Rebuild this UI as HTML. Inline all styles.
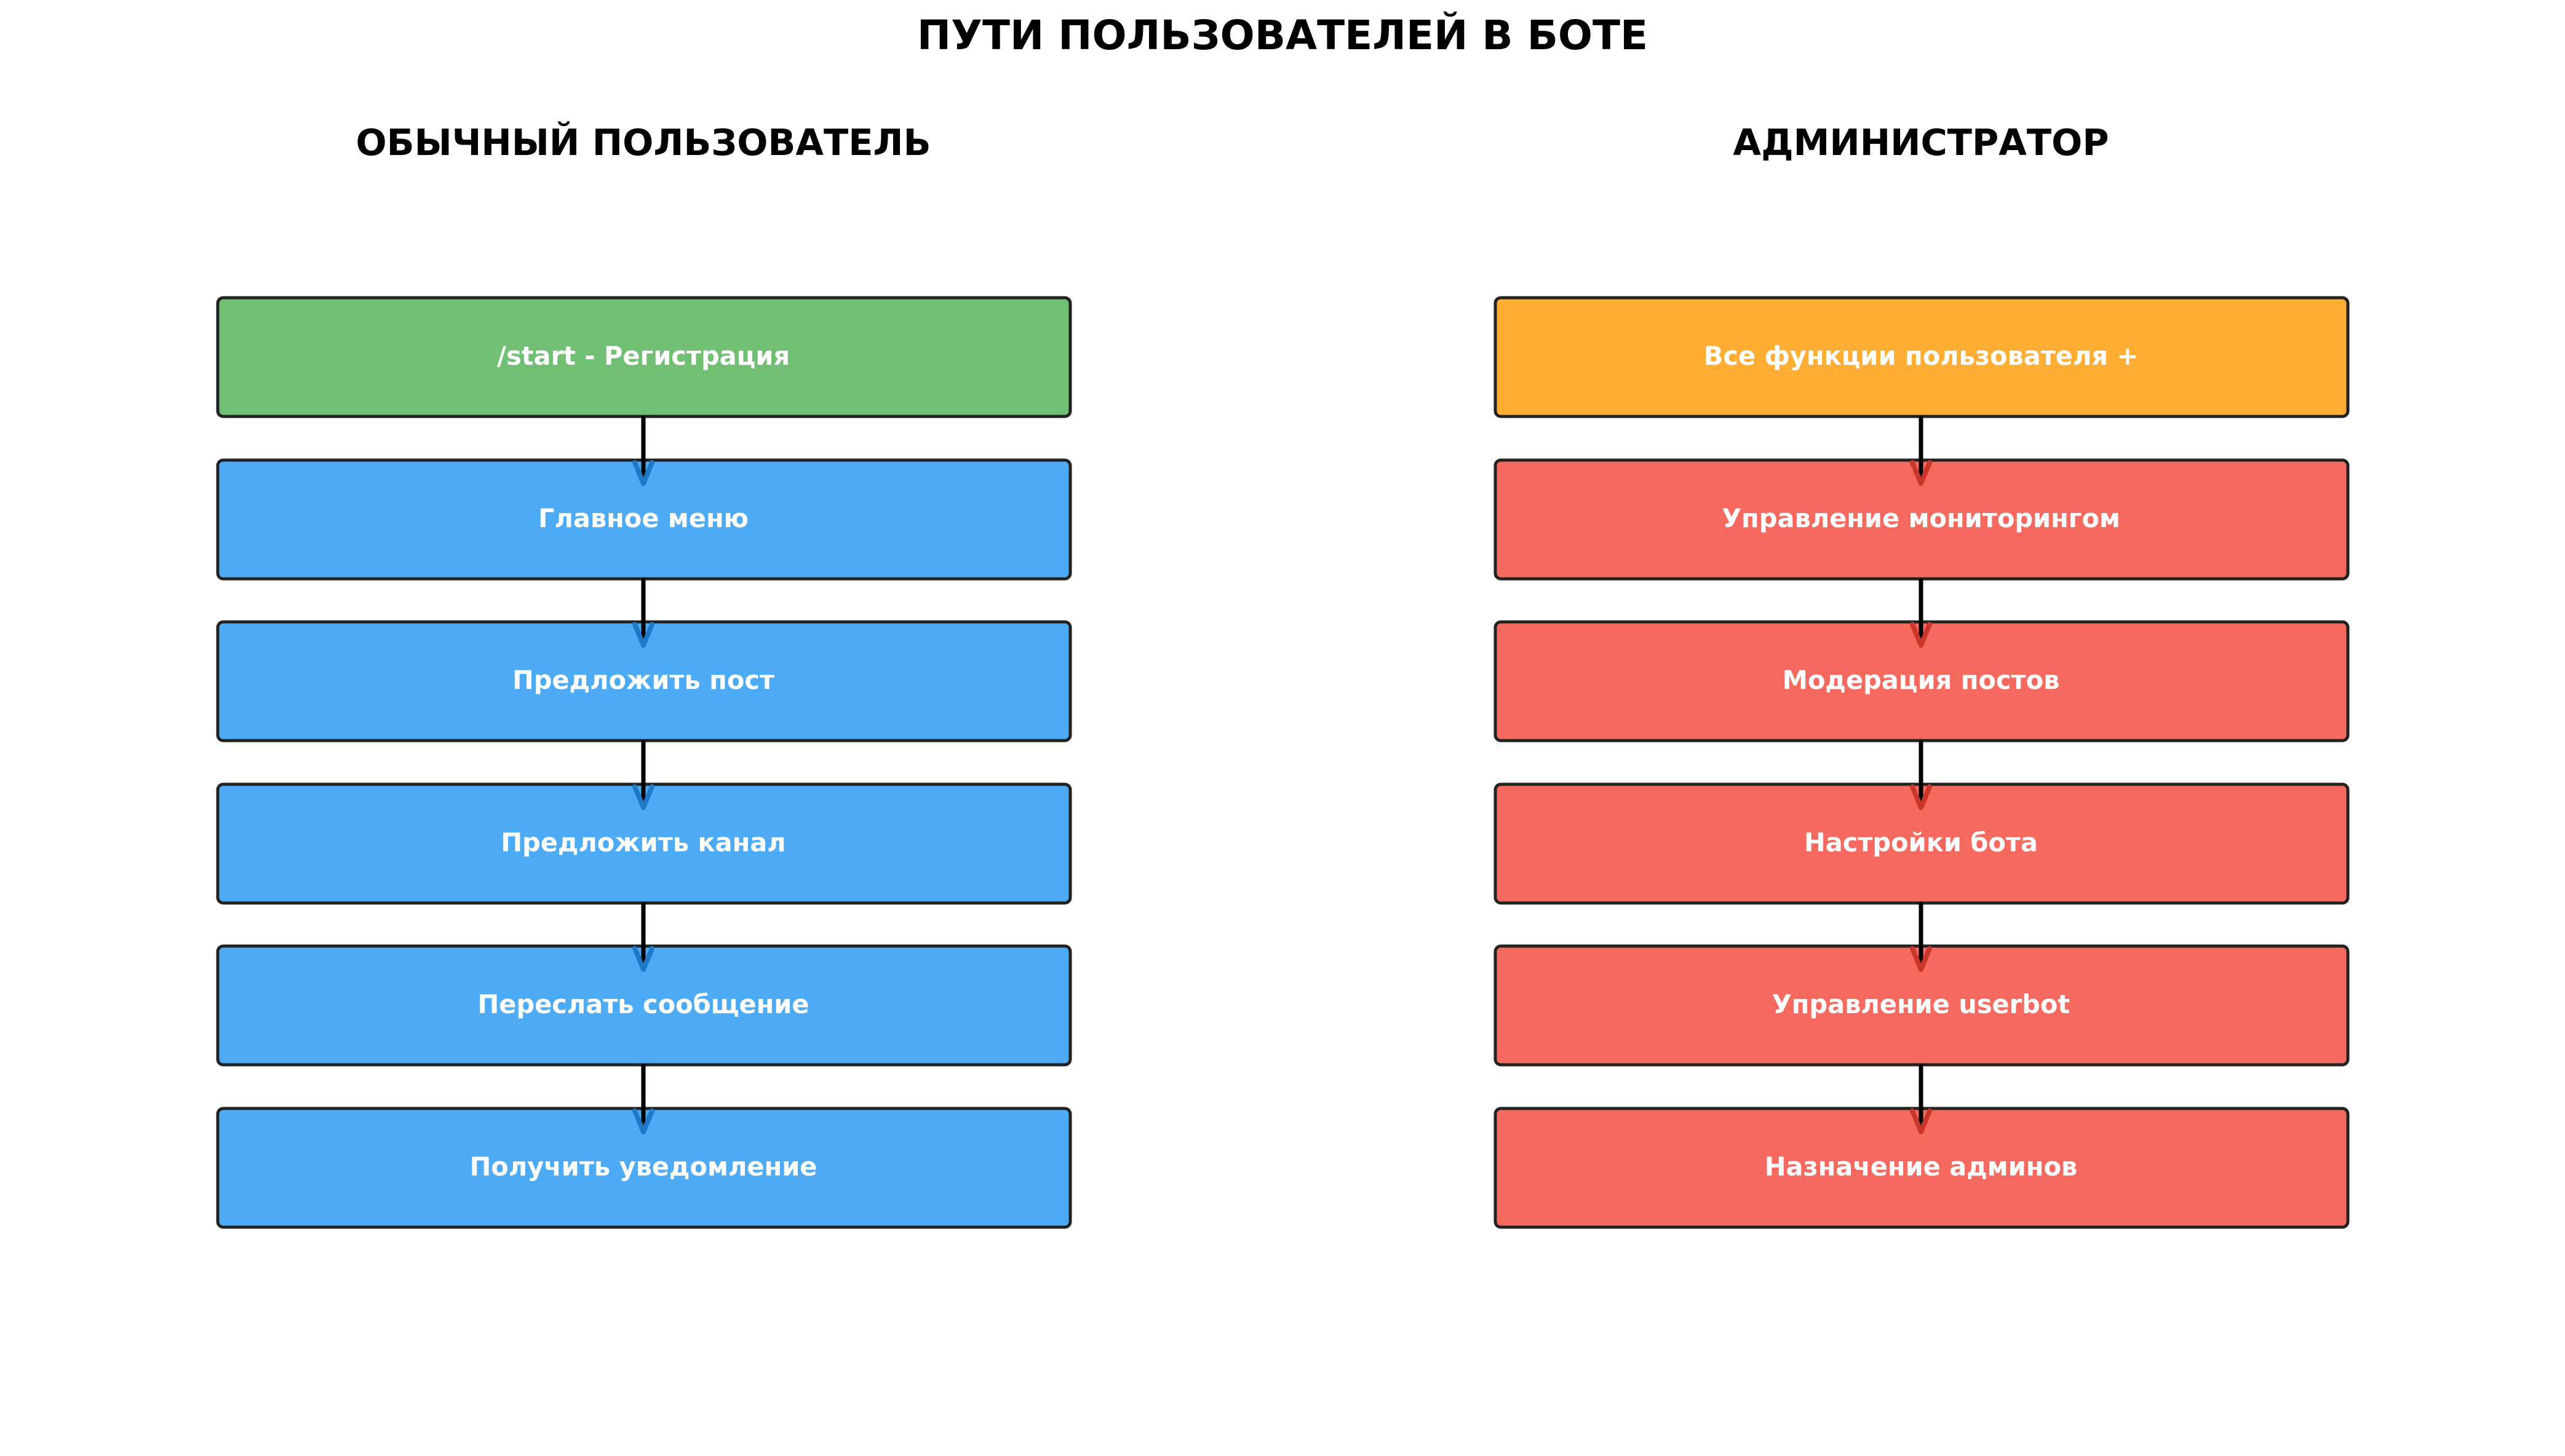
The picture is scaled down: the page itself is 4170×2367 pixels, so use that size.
<!DOCTYPE html>
<html><head><meta charset="utf-8"><style>html,body{margin:0;padding:0;background:#fff}svg{display:block}</style></head>
<body>
<svg width="4170" height="2367" viewBox="0 0 4170 2367" xmlns="http://www.w3.org/2000/svg" font-family="'DejaVu Sans','Liberation Sans',sans-serif" font-weight="bold">
<rect width="4170" height="2367" fill="#fff"/>
<text x="2085" y="80" text-anchor="middle" font-size="66" fill="#000">ПУТИ ПОЛЬЗОВАТЕЛЕЙ В БОТЕ</text>
<text x="1046" y="252" text-anchor="middle" font-size="59" fill="#000">ОБЫЧНЫЙ ПОЛЬЗОВАТЕЛЬ</text>
<text x="3123" y="252" text-anchor="middle" font-size="59" fill="#000">АДМИНИСТРАТОР</text>
<g stroke="#222" stroke-width="5">
<rect x="354" y="484" width="1386" height="193" rx="9" fill="#70bf73"/>
<rect x="354" y="748" width="1386" height="193" rx="9" fill="#4dabf5"/>
<rect x="354" y="1011" width="1386" height="193" rx="9" fill="#4dabf5"/>
<rect x="354" y="1275" width="1386" height="193" rx="9" fill="#4dabf5"/>
<rect x="354" y="1538" width="1386" height="193" rx="9" fill="#4dabf5"/>
<rect x="354" y="1802" width="1386" height="193" rx="9" fill="#4dabf5"/>
<rect x="2431" y="484" width="1386" height="193" rx="9" fill="#ffad33"/>
<rect x="2431" y="748" width="1386" height="193" rx="9" fill="#f6695e"/>
<rect x="2431" y="1011" width="1386" height="193" rx="9" fill="#f6695e"/>
<rect x="2431" y="1275" width="1386" height="193" rx="9" fill="#f6695e"/>
<rect x="2431" y="1538" width="1386" height="193" rx="9" fill="#f6695e"/>
<rect x="2431" y="1802" width="1386" height="193" rx="9" fill="#f6695e"/>
</g>
<g font-size="41.5" fill="#fff" text-anchor="middle">
<text x="1046" y="593">/start - Регистрация</text>
<text x="1046" y="857">Главное меню</text>
<text x="1046" y="1120">Предложить пост</text>
<text x="1046" y="1384">Предложить канал</text>
<text x="1046" y="1647">Переслать сообщение</text>
<text x="1046" y="1911">Получить уведомление</text>
<text x="3123" y="593">Все функции пользователя +</text>
<text x="3123" y="857">Управление мониторингом</text>
<text x="3123" y="1120">Модерация постов</text>
<text x="3123" y="1384">Настройки бота</text>
<text x="3123" y="1647">Управление userbot</text>
<text x="3123" y="1911">Назначение админов</text>
</g>
<g stroke="#000" stroke-width="7" stroke-linecap="round">
<line x1="1046" y1="679" x2="1046" y2="782"/><line x1="1046" y1="943" x2="1046" y2="1045"/>
<line x1="1046" y1="1206" x2="1046" y2="1309"/><line x1="1046" y1="1470" x2="1046" y2="1572"/>
<line x1="1046" y1="1733" x2="1046" y2="1836"/>
<line x1="3123" y1="679" x2="3123" y2="782"/><line x1="3123" y1="943" x2="3123" y2="1045"/>
<line x1="3123" y1="1206" x2="3123" y2="1309"/><line x1="3123" y1="1470" x2="3123" y2="1572"/>
<line x1="3123" y1="1733" x2="3123" y2="1836"/>
</g>
<defs>
<path id="ah" d="M-14,-34 L0,0 L14,-34" fill="none" stroke-width="8" stroke-linecap="round" stroke-linejoin="round"/>
</defs>
<g stroke="#1f78c8">
<use href="#ah" x="1046" y="786"/><use href="#ah" x="1046" y="1049"/><use href="#ah" x="1046" y="1313"/><use href="#ah" x="1046" y="1576"/><use href="#ah" x="1046" y="1840"/>
</g>
<g stroke="#c8362c">
<use href="#ah" x="3123" y="786"/><use href="#ah" x="3123" y="1049"/><use href="#ah" x="3123" y="1313"/><use href="#ah" x="3123" y="1576"/><use href="#ah" x="3123" y="1840"/>
</g>
</svg>
</body></html>
